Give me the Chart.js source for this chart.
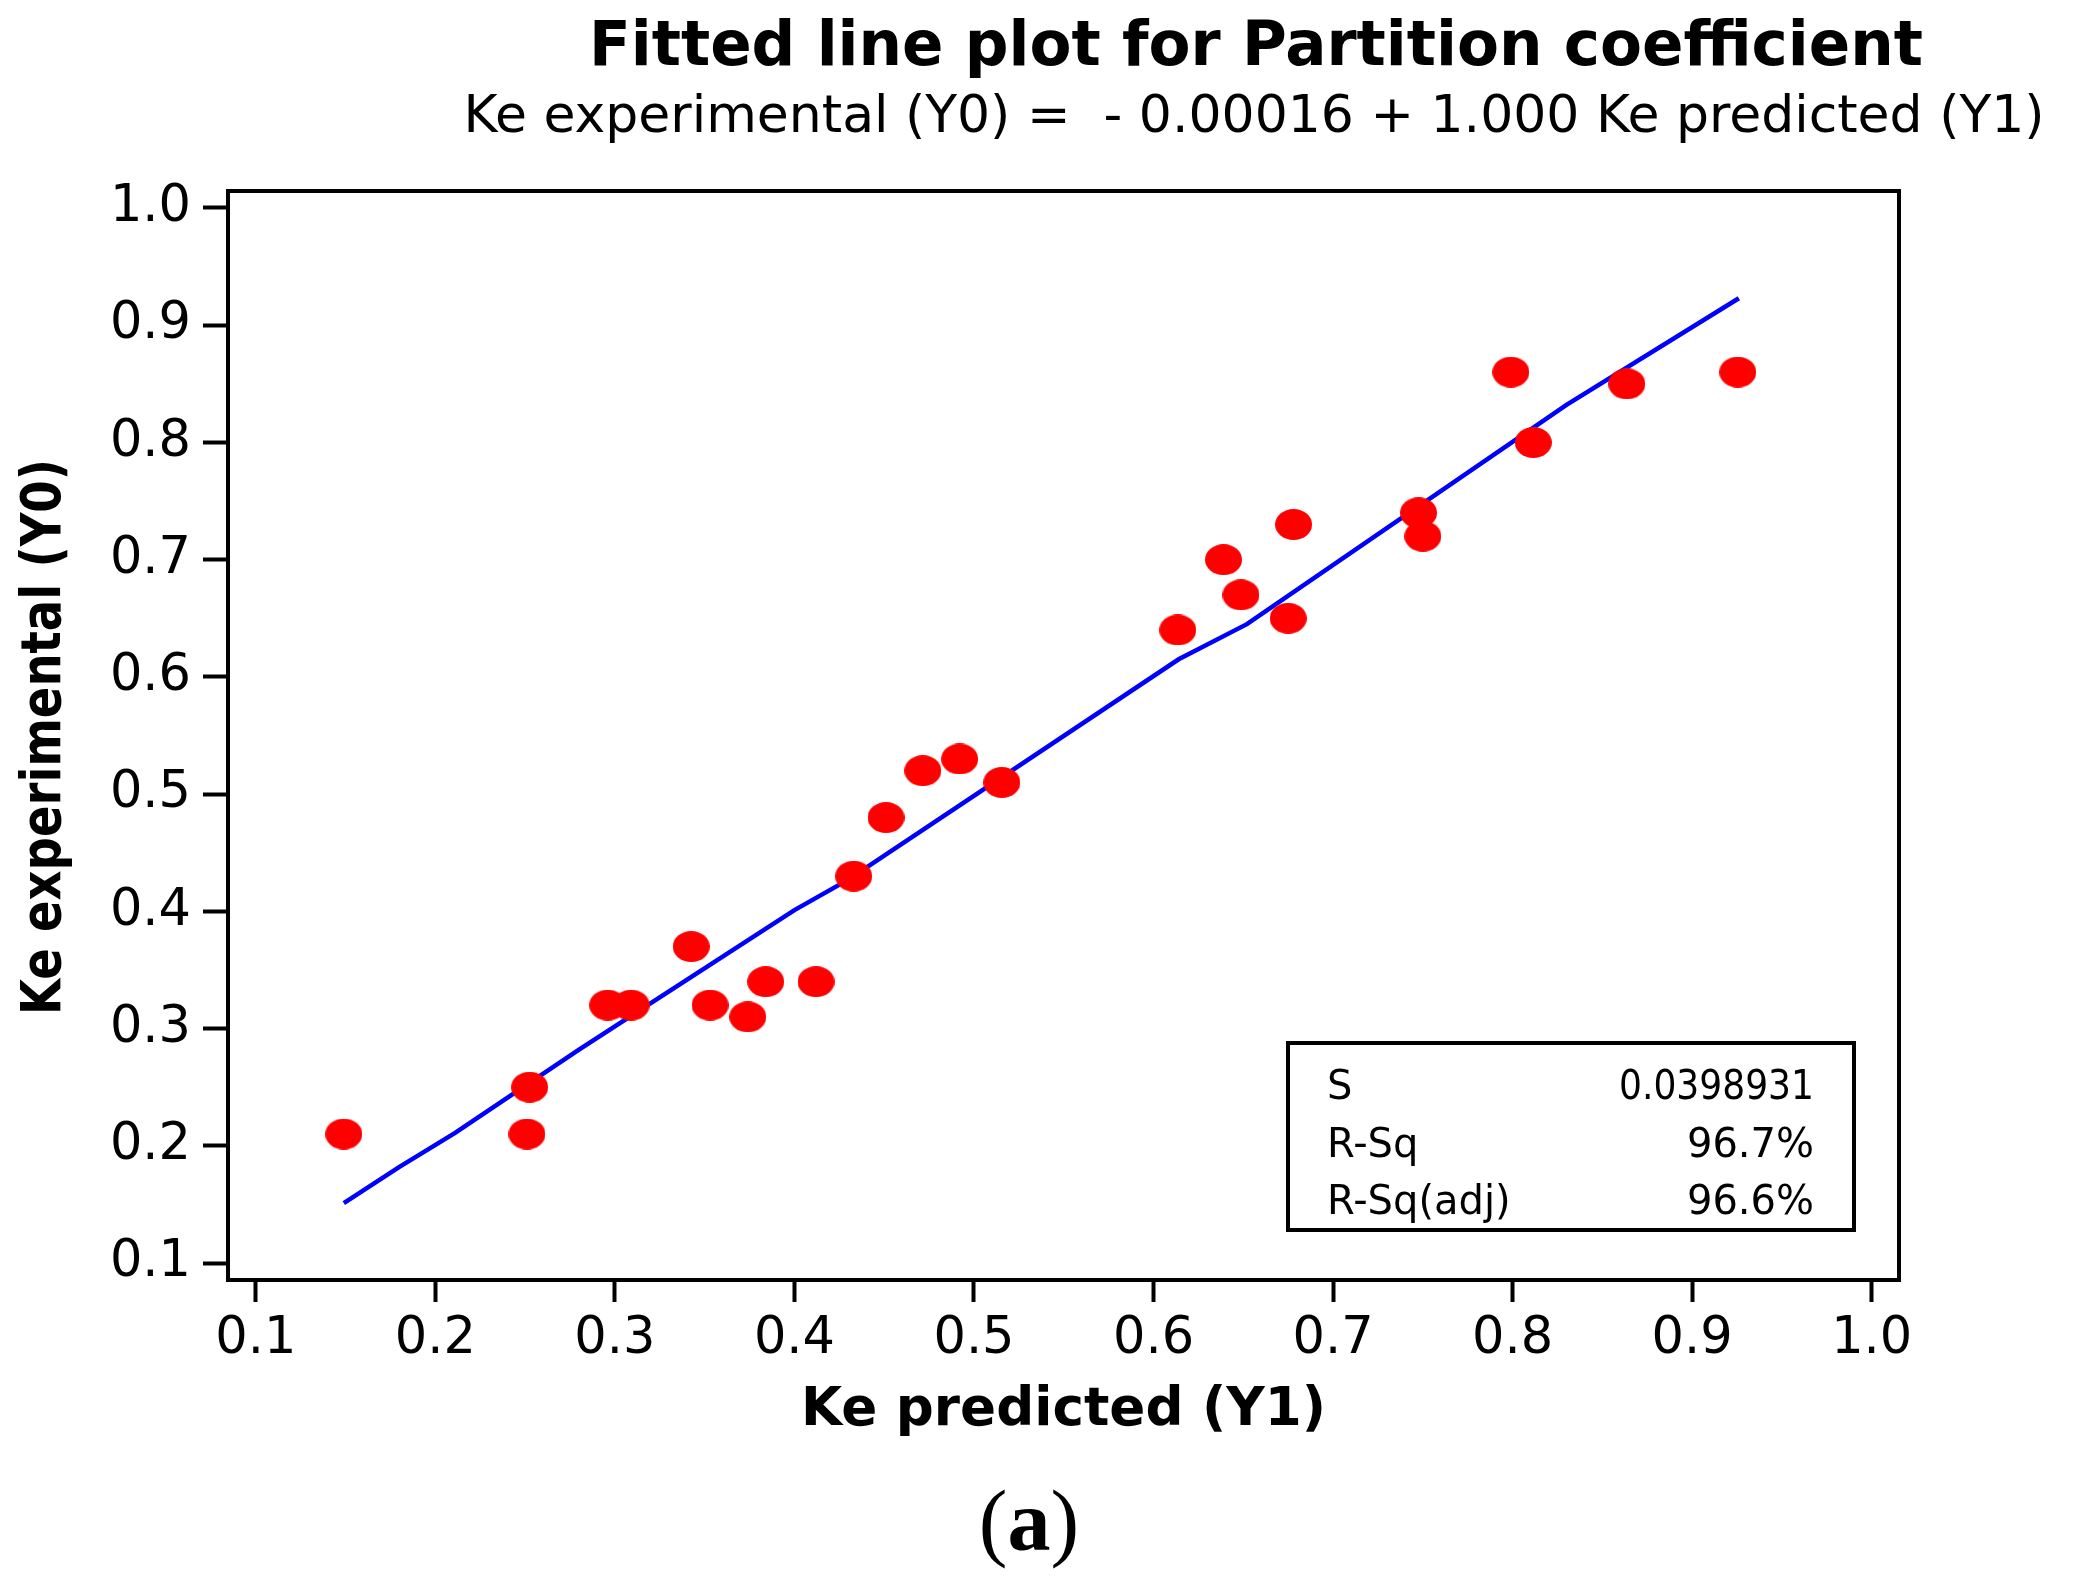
<!DOCTYPE html>
<html>
<head>
<meta charset="utf-8">
<script src="https://cdn.jsdelivr.net/npm/chart.js@4/dist/chart.umd.min.js"></script>
<style>
  html, body { margin: 0; padding: 0; background: #fff; }
  #wrap { width: 2073px; height: 1590px; }
</style>
</head>
<body>
<div id="wrap"><canvas id="chart" width="2073" height="1590"></canvas></div>
<script>
// Ke predicted (Y1) vs Ke experimental (Y0)
const predicted = [0.149, 0.251, 0.2525, 0.296, 0.309, 0.3425, 0.353, 0.374, 0.384, 0.412,
  0.433, 0.451, 0.4715, 0.492, 0.5155, 0.6135, 0.639, 0.6487, 0.675, 0.678,
  0.7476, 0.750, 0.799, 0.8115, 0.8636, 0.9254];
const experimental = [0.21, 0.21, 0.25, 0.32, 0.32, 0.37, 0.32, 0.31, 0.34, 0.34,
  0.43, 0.48, 0.52, 0.53, 0.51, 0.64, 0.70, 0.67, 0.65, 0.73,
  0.74, 0.72, 0.86, 0.80, 0.85, 0.86];

// fitted line as drawn (vertices)
const fitX = [0.149, 0.18, 0.211, 0.28, 0.40, 0.43, 0.614, 0.652, 0.83, 0.926];
const fitY = [0.151, 0.182, 0.211, 0.282, 0.401, 0.427, 0.615, 0.645, 0.832, 0.923];

const xTicks = [0.1, 0.2, 0.3, 0.4, 0.5, 0.6, 0.7, 0.8, 0.9, 1.0];
const yTicks = [0.1, 0.2, 0.3, 0.4, 0.5, 0.6, 0.7, 0.8, 0.9, 1.0];

const statLabels = ['S', 'R-Sq', 'R-Sq(adj)'];
const statValues = ['0.0398931', '96.7%', '96.6%'];

const titleText = 'Fitted line plot for Partition coefficient';
const subtitleText = 'Ke experimental (Y0) =  - 0.00016 + 1.000 Ke predicted (Y1)';
const xTitle = 'Ke predicted (Y1)';
const yTitle = 'Ke experimental (Y0)';

const FONT = '"DejaVu Sans", Verdana, sans-serif';
const SERIF = '"Liberation Serif", "Times New Roman", serif';

// red ellipse marker, a bit wider than tall
function ellipseMarker(w, h) {
  const c = document.createElement('canvas');
  c.width = w;
  c.height = h;
  const g = c.getContext('2d');
  g.fillStyle = '#ff0000';
  g.beginPath();
  g.ellipse(w / 2, h / 2, w / 2, h / 2, 0, 0, Math.PI * 2);
  g.fill();
  return c;
}

const decorations = {
  id: 'decorations',
  beforeDatasetsDraw(chart) {
    const { ctx, chartArea: a } = chart;
    ctx.save();
    ctx.strokeStyle = '#000';
    ctx.lineWidth = 4;
    ctx.strokeRect(a.left, a.top, a.right - a.left, a.bottom - a.top);
    ctx.restore();
  },
  afterDraw(chart) {
    const { ctx, chartArea: a } = chart;
    ctx.save();
    ctx.fillStyle = '#000';
    ctx.textBaseline = 'alphabetic';

    // titles
    ctx.textAlign = 'center';
    ctx.font = 'bold 62px ' + FONT;
    ctx.fillText(titleText, 1256, 65, 1334);
    ctx.font = '52px ' + FONT;
    ctx.fillText(subtitleText, 1254, 132, 1601);

    // axis titles
    ctx.font = 'bold 54px ' + FONT;
    ctx.fillText(xTitle, (a.left + a.right) / 2, 1425, 525);
    ctx.save();
    ctx.translate(60, 737);
    ctx.rotate(-Math.PI / 2);
    ctx.font = 'bold 55px ' + FONT;
    ctx.fillText(yTitle, 0, 0, 556);
    ctx.restore();

    // stats box in lower right of the plot
    const bx = a.right - 611, by = a.bottom - 237, bw = 566, bh = 187;
    ctx.lineWidth = 4;
    ctx.strokeRect(bx, by, bw, bh);
    ctx.font = '40px ' + FONT;
    statLabels.forEach((t, i) => {
      const base = by + 56 + i * 57.5;
      ctx.textAlign = 'left';
      ctx.fillText(t, bx + 39, base, 200);
      ctx.textAlign = 'right';
      ctx.fillText(statValues[i], bx + bw - 40, base, 195);
    });

    // panel caption "(a)" with a bold letter
    ctx.textAlign = 'left';
    ctx.font = '86px ' + SERIF;
    const wo = ctx.measureText('(').width;
    const wc = ctx.measureText(')').width;
    ctx.font = 'bold 86px ' + SERIF;
    const wa = ctx.measureText('a').width;
    const cx = 1029 - (wo + wa + wc) / 2;
    ctx.font = '86px ' + SERIF;
    ctx.fillText('(', cx, 1550);
    ctx.fillText(')', cx + wo + wa, 1550);
    ctx.font = 'bold 86px ' + SERIF;
    ctx.fillText('a', cx + wo, 1550);
    ctx.restore();
  }
};

function renderChart() {
  const canvas = document.getElementById('chart');
  const marker = ellipseMarker(37, 31);

  new Chart(canvas, {
    type: 'scatter',
    plugins: [decorations],
    data: {
      datasets: [
        {
          label: 'Observed',
          data: predicted.map((x, i) => ({ x, y: experimental[i] })),
          pointStyle: marker,
          order: 0,
        },
        {
          label: 'Fit',
          data: fitX.map((x, i) => ({ x, y: fitY[i] })),
          showLine: true,
          borderColor: '#0000ff',
          borderWidth: 4.5,
          pointRadius: 0,
          tension: 0,
          order: 1,
        },
      ],
    },
    options: {
      responsive: false,
      animation: false,
      devicePixelRatio: 1,
      layout: {
        padding: { top: 191, right: 174, left: 0, bottom: 0 },
      },
      scales: {
        x: {
          type: 'linear',
          min: 0.0845,
          max: 1.0152,
          afterFit: (scale) => { scale.height = 310; },
          afterBuildTicks: (scale) => { scale.ticks = xTicks.map(v => ({ value: v })); },
          border: { display: false },
          grid: {
            drawOnChartArea: false,
            drawTicks: true,
            tickLength: 22,
            tickWidth: 4,
            tickColor: '#000',
          },
          ticks: {
            color: '#000',
            padding: 7,
            maxRotation: 0,
            font: { family: FONT, size: 51 },
            callback: (v) => v.toFixed(1),
          },
        },
        y: {
          type: 'linear',
          min: 0.0855,
          max: 1.0145,
          afterFit: (scale) => { scale.width = 228; },
          afterBuildTicks: (scale) => { scale.ticks = yTicks.map(v => ({ value: v })); },
          border: { display: false },
          grid: {
            drawOnChartArea: false,
            drawTicks: true,
            tickLength: 25,
            tickWidth: 4,
            tickColor: '#000',
          },
          ticks: {
            color: '#000',
            padding: 12,
            font: { family: FONT, size: 51 },
            callback: (v) => v.toFixed(1),
          },
        },
      },
      plugins: {
        legend: { display: false },
        tooltip: { enabled: false },
      },
    },
  });
}

document.addEventListener('DOMContentLoaded', renderChart);
</script>
</body>
</html>
